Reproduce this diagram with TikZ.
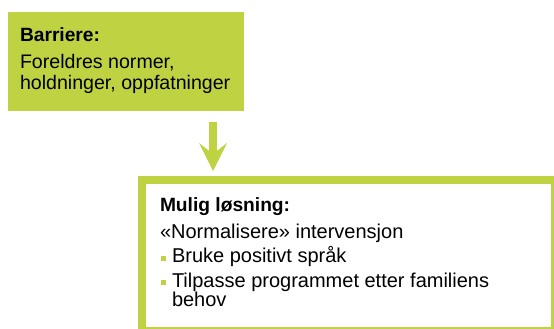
\documentclass[tikz,border=0pt]{standalone}
\usepackage{fontspec}
\setmainfont{Liberation Sans}
\usetikzlibrary{arrows.meta}
\definecolor{lime}{RGB}{191,210,65}
\tikzset{
  txt/.style={anchor=base west, inner sep=0pt, outer sep=0pt, font=\fontsize{19.6}{22}\selectfont, text=black},
  bigtxt/.style={txt, font=\fontsize{20}{22}\selectfont},
  boldtxt/.style={txt, font=\fontsize{19.2}{22}\selectfont\bfseries},
  greenbox/.style={fill=lime, draw=none, inner sep=0pt, outer sep=0pt},
  framebox/.style={draw=lime, line width=7.5pt, fill=none, inner sep=0pt, outer sep=0pt},
  bulletsq/.style={fill=lime, draw=none, minimum size=4.5pt, inner sep=0pt, outer sep=0pt},
  bigarrow/.style={draw=lime, line width=8pt, -{Stealth[width=28pt,length=28pt,inset=11pt,line width=0pt]}, lime}
}
\begin{document}
\begin{tikzpicture}[x=1pt,y=-1pt]
\useasboundingbox (0,0) rectangle (554,329);
% boxes
\node[greenbox, minimum width=236pt, minimum height=98.5pt] (barrier) at (126,61.25) {};
\node[framebox, minimum width=413pt, minimum height=150.75pt] (solution) at (348.25,255.125) {};
% arrow
\coordinate (ax) at (213,0);
\draw[bigarrow, shorten <=11.5pt, shorten >=8.75pt] (barrier.south -| ax) -- (solution.north -| ax);
% top text
\node[boldtxt] (t1) at (20,42) {Barriere:};
\node[txt] (t2) at (20,69) {Foreldres normer,};
\node[txt] (t3) at (20,89) {holdninger, oppfatninger};
% bottom text
\node[boldtxt] (s1) at (160,211) {Mulig løsning:};
\node[bigtxt] (s2) at (160,238) {«Normalisere» intervensjon};
\node[bulletsq] (b1) at (163.25,258.25) {};
\node[bigtxt] (s3) at (172,262.5) {Bruke positivt språk};
\node[bulletsq] (b2) at (163.25,282.5) {};
\node[bigtxt] (s4) at (172,287) {Tilpasse programmet etter familiens};
\node[bigtxt] (s5) at (172,306) {behov};
\end{tikzpicture}
\end{document}
